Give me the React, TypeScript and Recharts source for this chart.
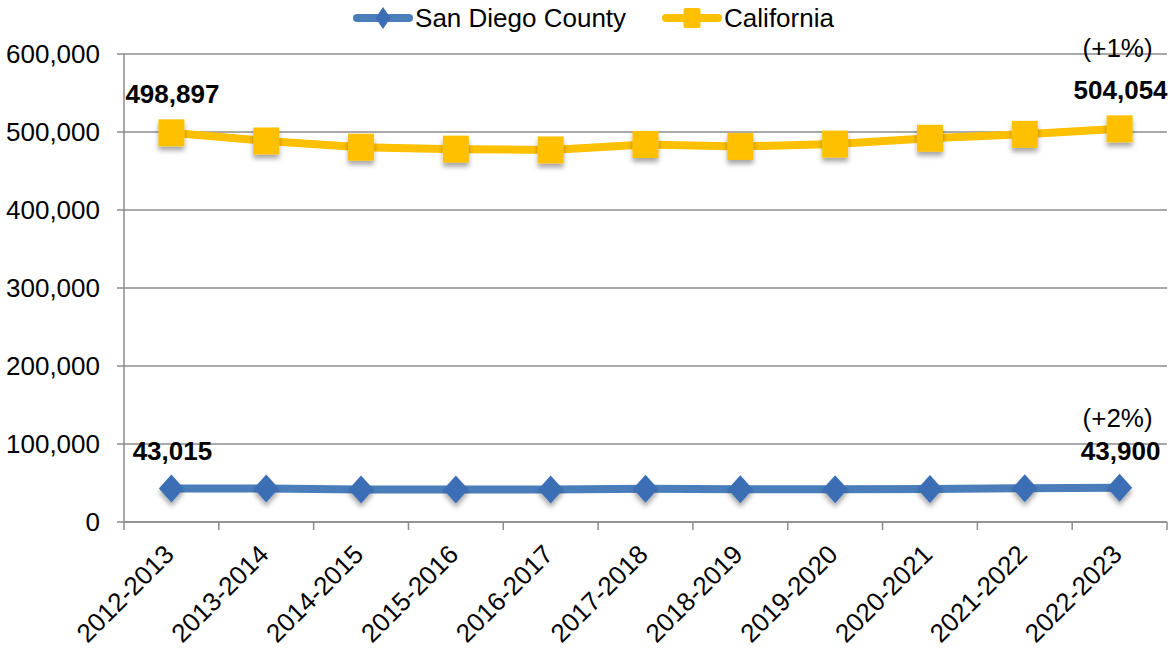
import React from 'react'
import { LineChart, Line, XAxis, YAxis, CartesianGrid, Legend, LabelList } from 'recharts'

const years = [
  '2012-2013', '2013-2014', '2014-2015', '2015-2016', '2016-2017', '2017-2018',
  '2018-2019', '2019-2020', '2020-2021', '2021-2022', '2022-2023',
]
const sanDiego = [43015, 42900, 41800, 41600, 41700, 42600, 42100, 42000, 42300, 43200, 43900]
const california = [498897, 488500, 480500, 478000, 477000, 484000, 481500, 484500, 492000, 497000, 504054]
const yTicks = [0, 100000, 200000, 300000, 400000, 500000, 600000]
const changeSanDiego = '(+2%)'
const changeCalifornia = '(+1%)'

const data = years.map((year, i) => ({ year, sd: sanDiego[i], ca: california[i] }))

const W = 1172
const H = 649
const FONT = '"Liberation Sans", Arial, sans-serif'
const BLUE = '#4A7EBB'
const BLUE_DOT = '#3B6EB4'
const GOLD = '#FFC000'
const GRID = '#8C8C8C'
const PLOT_LEFT = 124
const PLOT_RIGHT = 5
const BAND = (W - PLOT_LEFT - PLOT_RIGHT) / years.length

const fmt = (v: number) => v.toLocaleString('en-US')

function SquareDot(props: any) {
  const { cx, cy } = props
  if (cx == null || cy == null) return null
  return <rect x={cx - 13} y={cy - 13.5} width={26} height={27} fill={GOLD} filter="url(#dotShadow)" />
}

function DiamondDot(props: any) {
  const { cx, cy } = props
  if (cx == null || cy == null) return null
  return (
    <polygon
      points={`${cx},${cy - 14} ${cx + 12.5},${cy} ${cx},${cy + 14} ${cx - 12.5},${cy}`}
      fill={BLUE_DOT}
      filter="url(#dotShadow)"
    />
  )
}

// tick marks sit between the categories, labels are rotated under each one
function XTick(props: any) {
  const { x, y, payload, index } = props
  const left = x - BAND / 2
  const tx = x + 4
  const ty = y + 26
  return (
    <g>
      <line x1={left} y1={y - 8} x2={left} y2={y} stroke={GRID} strokeWidth={1.5} />
      {index === years.length - 1 && (
        <line x1={x + BAND / 2} y1={y - 8} x2={x + BAND / 2} y2={y} stroke={GRID} strokeWidth={1.5} />
      )}
      <text
        x={tx}
        y={ty}
        textAnchor="end"
        fontSize={26}
        fontFamily={FONT}
        fill="#000"
        transform={`rotate(-45 ${tx} ${ty})`}
      >
        {payload.value}
      </text>
    </g>
  )
}

function endLabels(change: string, valueOffset: number, changeOffset: number) {
  return (props: any) => {
    const { x, y, index, value } = props
    if (index !== 0 && index !== years.length - 1) return null
    return (
      <g>
        <text x={x + 1} y={y - valueOffset} textAnchor="middle" fontSize={26} fontWeight="bold" fontFamily={FONT} fill="#000">
          {fmt(value)}
        </text>
        {index === years.length - 1 && (
          <text x={x - 2} y={y - changeOffset} textAnchor="middle" fontSize={26} fontFamily={FONT} fill="#000">
            {change}
          </text>
        )}
      </g>
    )
  }
}

function LegendIcon({ color, shape }: { color: string; shape: 'diamond' | 'square' }) {
  return (
    <svg width={60} height={26} style={{ display: 'block' }}>
      <line x1={4} y1={13} x2={56} y2={13} stroke={color} strokeWidth={8} strokeLinecap="round" />
      {shape === 'diamond' ? (
        <polygon points="30,2 37.5,13 30,24 22.5,13" fill={BLUE_DOT} />
      ) : (
        <rect x={21.5} y={3} width={17} height={20} rx={2} fill={color} />
      )}
    </svg>
  )
}

function LegendContent() {
  const items = [
    { name: 'San Diego County', color: BLUE, shape: 'diamond' as const },
    { name: 'California', color: GOLD, shape: 'square' as const },
  ]
  return (
    <div style={{ display: 'flex', justifyContent: 'center', alignItems: 'center', height: 36, paddingLeft: 15 }}>
      {items.map((it, i) => (
        <div key={it.name} style={{ display: 'flex', alignItems: 'center', marginLeft: i ? 36 : 0 }}>
          <LegendIcon color={it.color} shape={it.shape} />
          <span style={{ fontFamily: FONT, fontSize: 26, color: '#000', marginLeft: 2 }}>{it.name}</span>
        </div>
      ))}
    </div>
  )
}

export default function App() {
  return (
    <div style={{ position: 'absolute', left: 0, top: 0, width: W, height: H, background: '#fff' }}>
      <LineChart width={W} height={H} data={data} margin={{ top: 18, right: PLOT_RIGHT, bottom: 0, left: 0 }}>
        <defs>
          <filter id="dotShadow" x="-50%" y="-50%" width="200%" height="200%">
            <feDropShadow dx={0} dy={4} stdDeviation={2.5} floodColor="#000" floodOpacity={0.35} />
          </filter>
        </defs>
        <Legend verticalAlign="top" height={36} wrapperStyle={{ top: 0, left: 0, width: W }} content={<LegendContent />} />
        <CartesianGrid vertical={false} stroke={GRID} strokeWidth={1.5} />
        <XAxis
          dataKey="year"
          scale="band"
          height={127}
          interval={0}
          tickLine={false}
          axisLine={{ stroke: GRID, strokeWidth: 1.5 }}
          tick={<XTick />}
        />
        <YAxis
          width={PLOT_LEFT}
          domain={[0, 600000]}
          ticks={yTicks}
          tickFormatter={fmt}
          tickSize={7}
          tickMargin={17}
          axisLine={{ stroke: GRID, strokeWidth: 1.5 }}
          tickLine={{ stroke: GRID, strokeWidth: 1.5 }}
          tick={{ fontSize: 26, fontFamily: FONT, fill: '#000' }}
        />
        <Line
          dataKey="ca"
          name="California"
          stroke={GOLD}
          strokeWidth={8}
          dot={<SquareDot />}
          activeDot={false}
          isAnimationActive={false}
        >
          <LabelList dataKey="ca" content={endLabels(changeCalifornia, 30, 72)} />
        </Line>
        <Line
          dataKey="sd"
          name="San Diego County"
          stroke={BLUE}
          strokeWidth={8}
          dot={<DiamondDot />}
          activeDot={false}
          isAnimationActive={false}
        >
          <LabelList dataKey="sd" content={endLabels(changeSanDiego, 28, 61)} />
        </Line>
      </LineChart>
    </div>
  )
}
